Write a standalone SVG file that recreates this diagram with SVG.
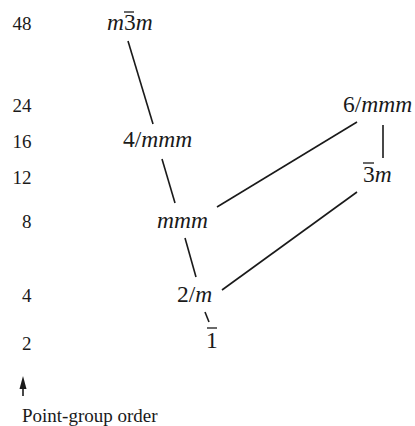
<svg xmlns="http://www.w3.org/2000/svg" width="415" height="426" viewBox="0 0 415 426">
<style>
text{font-family:'Liberation Serif','DejaVu Serif',serif;fill:#1a1a1a}
.ax{font-size:19px;text-anchor:end}
.lb{font-size:23.5px}
.i{font-style:italic}
.ln{stroke:#1a1a1a;stroke-width:1.6;fill:none}
.bar{stroke:#1a1a1a;stroke-width:1.3}
</style>
<rect width="415" height="426" fill="#ffffff"/>
<g id="axis">
<text class="ax" x="31.5" y="30">48</text>
<text class="ax" x="31.5" y="112">24</text>
<text class="ax" x="31.5" y="148">16</text>
<text class="ax" x="31.5" y="184">12</text>
<text class="ax" x="31.5" y="228">8</text>
<text class="ax" x="31.5" y="302">4</text>
<text class="ax" x="31.5" y="350">2</text>
<line class="ln" x1="23" y1="396" x2="23" y2="386"/>
<polygon points="23,376 19.5,389 26.5,389" fill="#1a1a1a"/>
<text class="ax" x="22" y="422" style="text-anchor:start">Point-group order</text>
</g>
<g id="connectors">
<line class="ln" x1="128" y1="41" x2="153" y2="124"/>
<line class="ln" x1="162" y1="159" x2="175" y2="203"/>
<line class="ln" x1="217" y1="207" x2="357" y2="122"/>
<line class="ln" x1="185" y1="238" x2="196" y2="277"/>
<line class="ln" x1="222" y1="290" x2="357" y2="192"/>
<line class="ln" x1="205" y1="312" x2="209" y2="322"/>
<line class="ln" x1="383" y1="125" x2="383" y2="158"/>
</g>
<g id="n-m3m">
<text class="lb" x="107" y="30"><tspan class="i">m</tspan>3<tspan class="i">m</tspan></text>
<line class="bar" x1="124" y1="12" x2="134" y2="12"/>
</g>
<g id="n-4mmm">
<text class="lb" x="123" y="147">4/<tspan class="i">mmm</tspan></text>
</g>
<g id="n-6mmm">
<text class="lb" x="343" y="112">6/<tspan class="i">mmm</tspan></text>
</g>
<g id="n-3m">
<text class="lb" x="363" y="182">3<tspan class="i">m</tspan></text>
<line class="bar" x1="363" y1="163" x2="374" y2="163"/>
</g>
<g id="n-mmm">
<text class="lb i" x="157" y="228">mmm</text>
</g>
<g id="n-2m">
<text class="lb" x="177" y="302">2/<tspan class="i">m</tspan></text>
</g>
<g id="n-1">
<text class="lb" x="206" y="348">1</text>
<line class="bar" x1="207" y1="328" x2="217" y2="328"/>
</g>
</svg>
